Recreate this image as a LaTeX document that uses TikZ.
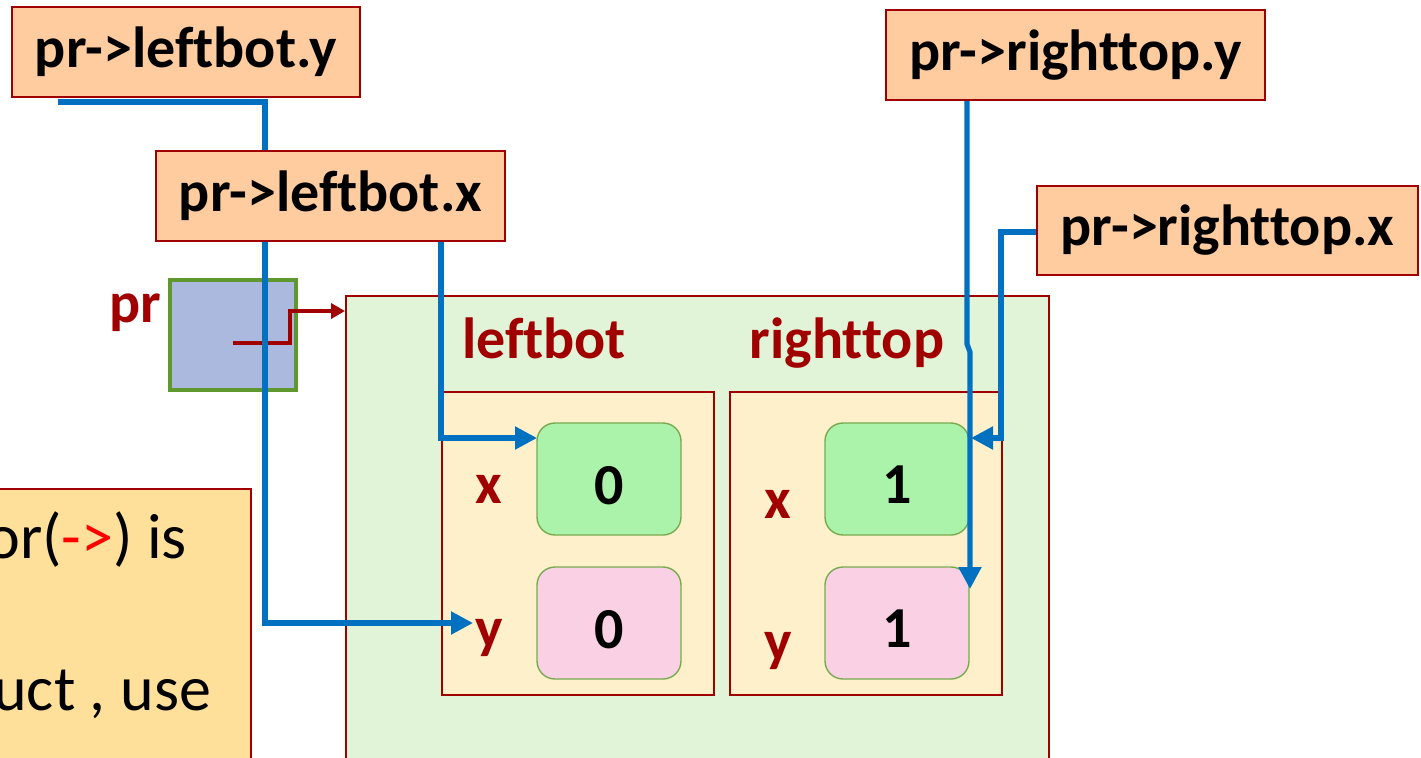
\documentclass[tikz,border=0pt]{standalone}
\usepackage{fontspec}
\setmainfont{Carlito}[Ligatures=NoCommon]
\usetikzlibrary{arrows.meta}

\definecolor{peach}{RGB}{255,204,160}
\definecolor{darkred}{RGB}{160,0,0}
\definecolor{structbg}{RGB}{226,244,215}
\definecolor{membg}{RGB}{255,240,204}
\definecolor{valgreen}{RGB}{171,242,171}
\definecolor{valpink}{RGB}{249,208,228}
\definecolor{valedge}{RGB}{120,170,80}
\definecolor{ptrfill}{RGB}{171,185,222}
\definecolor{ptredge}{RGB}{96,152,48}
\definecolor{linkblue}{RGB}{0,112,192}
\definecolor{notefill}{RGB}{255,224,155}

\tikzset{
  exprbox/.style={draw=darkred, line width=1.2pt, fill=peach, inner sep=0pt,
    font=\fontsize{29}{33}\selectfont\bfseries, text=black},
  frame/.style={draw=darkred, line width=1.1pt},
  valbox/.style={draw=valedge, line width=0.7pt, rounded corners=9pt, inner sep=0pt,
    minimum width=72pt, minimum height=56pt,
    font=\fontsize{29}{33}\selectfont\bfseries, text=black},
  redlabel/.style={text=darkred, font=\fontsize{29}{33}\selectfont\bfseries, inner sep=0pt, anchor=base},
  bluelink/.style={draw=linkblue, line width=2.6pt, -{Triangle[length=11pt,width=11pt]}},
  ptrlink/.style={draw=darkred, line width=2.2pt, -{Triangle[length=7pt,width=7.5pt]}},
}
\newcommand\valtext[1]{\raisebox{-3pt}[\height][0pt]{#1}}

\begin{document}
\begin{tikzpicture}[x=0.5pt,y=-0.5pt]
\useasboundingbox (0,0) rectangle (1421,757);
\clip (0,0) rectangle (1421,757);

% note box at the lower left
\node[draw=darkred, line width=1.1pt, fill=notefill, minimum width=135pt, minimum height=150pt, inner sep=0pt,
      anchor=north east] (note) at (252,488) {};
\node[anchor=base west, inner sep=0pt, font=\fontsize{32}{38}\selectfont] (noteA) at (-14,558)
  {or(\textcolor{red}{->}) is};
\node[anchor=base west, inner sep=0pt, font=\fontsize{32}{38}\selectfont] (noteB) at (-7,710)
  {uct , use};

% the struct object
\node[frame, fill=structbg, minimum width=351.5pt, minimum height=250pt, inner sep=0pt,
      anchor=north west] (obj) at (345,295) {};
\node[redlabel] (lbname) at (544,358) {leftbot};
\node[redlabel] (rtname) at (847,358) {righttop};

\node[frame, fill=membg, minimum width=136pt, minimum height=151.5pt, inner sep=0pt,
      anchor=north west] (lbbox) at (441,391) {};
\node[frame, fill=membg, minimum width=136pt, minimum height=151.5pt, inner sep=0pt,
      anchor=north west] (rtbox) at (729,391) {};

\node[valbox, fill=valgreen] (lbx) at (609,479) {\valtext{0}};
\node[valbox, fill=valpink]  (lby) at (609,623) {\valtext{0}};
\node[valbox, fill=valgreen] (rtx) at (897,479) {\valtext{1}};
\node[valbox, fill=valpink]  (rty) at (897,623) {\valtext{1}};

\node[redlabel] (lbxl) at (489,503) {x};
\node[redlabel] (lbyl) at (489,647) {y};
\node[redlabel] (rtxl) at (778,518) {x};
\node[redlabel] (rtyl) at (778,660) {y};

% the pointer variable
\node[draw=ptredge, line width=2.4pt, fill=ptrfill, minimum width=63pt, minimum height=55pt,
      inner sep=0pt] (pr) at (233,335) {};
\node[redlabel] (prname) at (135,322) {pr};
\coordinate (prtail) at (233,343);
\coordinate (prbend) at (290,311);
\coordinate (objin) at (345,311);
\draw[ptrlink] (prtail) -| (prbend) -- (objin);

% access paths of the four expressions
\coordinate (eA) at (58,102);
\coordinate (eAtip) at (473,623);
\draw[bluelink] (eA) -| (265,623) -- (eAtip);

\coordinate (eB) at (441,241);
\coordinate (eBtip) at (537,438);
\draw[bluelink] (eB) |- (eBtip);

\coordinate (eC) at (967,100);
\coordinate (eCtip) at (970,589);
\draw[bluelink] (eC) -- (967,344) -- (970,352) -- (eCtip);

\coordinate (eD) at (1037,232);
\coordinate (eDtip) at (971,438);
\draw[bluelink] (eD) -| (1001,438) -- (eDtip);

% expression labels
\node[exprbox, minimum width=174pt, minimum height=45pt] (ely) at (186,52) {pr->leftbot.y};
\node[exprbox, minimum width=174.5pt, minimum height=45pt] (elx) at (330.5,196) {pr->leftbot.x};
\node[exprbox, minimum width=189.5pt, minimum height=45pt] (ery) at (1075.5,55) {pr->righttop.y};
\node[exprbox, minimum width=190.5pt, minimum height=44.5pt] (erx) at (1227.5,230.5) {pr->righttop.x};
\end{tikzpicture}
\end{document}
